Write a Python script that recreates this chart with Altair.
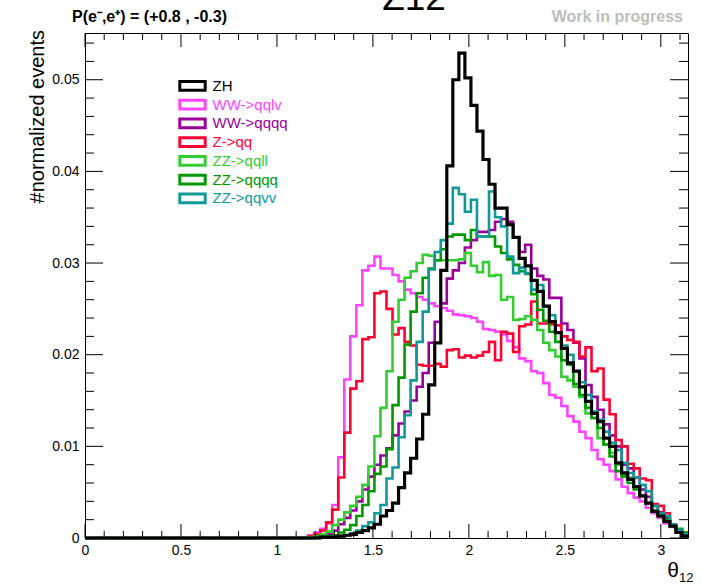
import math
import pandas as pd
import altair as alt

FONT = "Liberation Sans"
W, H = 603, 505
PAD = {"left": 85, "top": 33, "right": 14, "bottom": 46}

N_BINS = 100
X_MAX = math.pi
Y_MAX = 0.0551
BIN_WIDTH = X_MAX / N_BINS

series_names = ["ZH", "WW->qqlv", "WW->qqqq", "Z->qq", "ZZ->qqll", "ZZ->qqqq", "ZZ->qqvv"]
series_colors = ["#000000", "#ff44ff", "#990099", "#ff0033", "#33cc33", "#009900", "#119999"]
draw_order = ["WW->qqlv", "WW->qqqq", "Z->qq", "ZZ->qqll", "ZZ->qqqq", "ZZ->qqvv", "ZH"]

# bin contents, 100 bins over [0, pi]
zh = [
    0, 0, 0, 0, 0, 0, 0, 0, 0, 0, 0, 0, 0, 0, 0, 0, 0, 0, 0, 0,
    0, 0, 0, 0, 0, 0, 0, 0, 0, 0, 0, 0, 0, 0, 0, 0, 0,
    0.0000, 0.0000, 0.0001, 0.0001, 0.0001, 0.0002, 0.0003, 0.0004, 0.0006, 0.0008,
    0.0011, 0.0015, 0.0024, 0.0030, 0.0038, 0.0055, 0.0071, 0.0087, 0.0108, 0.0135,
    0.0167, 0.0213, 0.0292, 0.0406, 0.0500, 0.0529, 0.0502, 0.0472, 0.0444, 0.0413,
    0.0386, 0.0360, 0.0360, 0.0342, 0.0328, 0.0305, 0.0297, 0.0281, 0.0269, 0.0253,
    0.0236, 0.0224, 0.0207, 0.0191, 0.0182, 0.0165, 0.0149, 0.0136, 0.0127, 0.0109,
    0.0100, 0.0082, 0.0071, 0.0064, 0.0056, 0.0046, 0.0038, 0.0029, 0.0024, 0.0018,
    0.0013, 0.0006, 0.0002]
ww_qqlv = [
    0, 0, 0, 0, 0, 0, 0, 0, 0, 0, 0, 0, 0, 0, 0, 0, 0, 0, 0, 0,
    0, 0, 0, 0, 0, 0, 0, 0, 0, 0, 0, 0, 0, 0, 0, 0, 0,
    0.0003, 0.0006, 0.0010, 0.0016, 0.0036, 0.0088, 0.0173, 0.0220, 0.0254, 0.0292,
    0.0297, 0.0307, 0.0294, 0.0294, 0.0287, 0.0280, 0.0271, 0.0267, 0.0263, 0.0260,
    0.0256, 0.0253, 0.0251, 0.0248, 0.0244, 0.0243, 0.0242, 0.0240, 0.0236, 0.0228,
    0.0227, 0.0225, 0.0222, 0.0215, 0.0208, 0.0196, 0.0193, 0.0182, 0.0180, 0.0169,
    0.0156, 0.0153, 0.0144, 0.0133, 0.0127, 0.0116, 0.0109, 0.0096, 0.0086, 0.0080,
    0.0073, 0.0064, 0.0056, 0.0049, 0.0044, 0.0040, 0.0033, 0.0027, 0.0022, 0.0016,
    0.0012, 0.0008, 0.0004]
ww_qqqq = [
    0, 0, 0, 0, 0, 0, 0, 0, 0, 0, 0, 0, 0, 0, 0, 0, 0, 0, 0, 0,
    0, 0, 0, 0, 0, 0, 0, 0, 0, 0, 0, 0, 0, 0, 0, 0, 0,
    0.0000, 0.0001, 0.0002, 0.0004, 0.0008, 0.0015, 0.0022, 0.0030, 0.0040, 0.0053,
    0.0067, 0.0080, 0.0090, 0.0098, 0.0112, 0.0125, 0.0138, 0.0150, 0.0165, 0.0180,
    0.0213, 0.0236, 0.0256, 0.0283, 0.0292, 0.0300, 0.0317, 0.0325, 0.0334, 0.0334,
    0.0336, 0.0345, 0.0348, 0.0345, 0.0328, 0.0312, 0.0320, 0.0294, 0.0286, 0.0282,
    0.0262, 0.0262, 0.0234, 0.0227, 0.0213, 0.0196, 0.0167, 0.0154, 0.0140, 0.0124,
    0.0112, 0.0100, 0.0080, 0.0076, 0.0066, 0.0053, 0.0045, 0.0035, 0.0028, 0.0022,
    0.0014, 0.0008, 0.0003]
z_qq = [
    0, 0, 0, 0, 0, 0, 0, 0, 0, 0, 0, 0, 0, 0, 0, 0, 0, 0, 0, 0,
    0, 0, 0, 0, 0, 0, 0, 0, 0, 0, 0, 0, 0, 0, 0, 0, 0,
    0.0002, 0.0004, 0.0008, 0.0017, 0.0031, 0.0066, 0.0115, 0.0163, 0.0171, 0.0217,
    0.0219, 0.0267, 0.0269, 0.0250, 0.0222, 0.0229, 0.0214, 0.0210, 0.0189, 0.0188,
    0.0188, 0.0190, 0.0187, 0.0205, 0.0206, 0.0197, 0.0199, 0.0197, 0.0199, 0.0203,
    0.0214, 0.0194, 0.0225, 0.0223, 0.0203, 0.0231, 0.0233, 0.0258, 0.0234, 0.0234,
    0.0233, 0.0232, 0.0220, 0.0216, 0.0214, 0.0198, 0.0208, 0.0182, 0.0185, 0.0151,
    0.0135, 0.0107, 0.0100, 0.0081, 0.0076, 0.0065, 0.0063, 0.0037, 0.0035, 0.0027,
    0.0014, 0.0009, 0.0004]
zz_qqll = [
    0, 0, 0, 0, 0, 0, 0, 0, 0, 0, 0, 0, 0, 0, 0, 0, 0, 0, 0, 0,
    0, 0, 0, 0, 0, 0, 0, 0, 0, 0, 0, 0, 0, 0, 0, 0, 0,
    0.0001, 0.0002, 0.0004, 0.0007, 0.0014, 0.0020, 0.0028, 0.0035, 0.0045, 0.0058,
    0.0078, 0.0111, 0.0142, 0.0182, 0.0236, 0.0260, 0.0284, 0.0291, 0.0300, 0.0309,
    0.0308, 0.0303, 0.0303, 0.0303, 0.0303, 0.0304, 0.0311, 0.0297, 0.0290, 0.0301,
    0.0286, 0.0287, 0.0260, 0.0263, 0.0238, 0.0239, 0.0242, 0.0238, 0.0227, 0.0213,
    0.0205, 0.0198, 0.0176, 0.0172, 0.0165, 0.0154, 0.0136, 0.0131, 0.0109, 0.0102,
    0.0093, 0.0080, 0.0069, 0.0066, 0.0056, 0.0046, 0.0038, 0.0029, 0.0026, 0.0018,
    0.0013, 0.0007, 0.0006]
zz_qqqq = [
    0, 0, 0, 0, 0, 0, 0, 0, 0, 0, 0, 0, 0, 0, 0, 0, 0, 0, 0, 0,
    0, 0, 0, 0, 0, 0, 0, 0, 0, 0, 0, 0, 0, 0, 0, 0, 0,
    0.0000, 0.0001, 0.0001, 0.0002, 0.0003, 0.0006, 0.0009, 0.0014, 0.0024, 0.0036,
    0.0051, 0.0070, 0.0078, 0.0097, 0.0145, 0.0175, 0.0211, 0.0247, 0.0267, 0.0284,
    0.0294, 0.0303, 0.0315, 0.0329, 0.0331, 0.0331, 0.0325, 0.0336, 0.0329, 0.0329,
    0.0329, 0.0318, 0.0311, 0.0304, 0.0298, 0.0291, 0.0288, 0.0266, 0.0249, 0.0237,
    0.0225, 0.0214, 0.0194, 0.0189, 0.0168, 0.0156, 0.0142, 0.0131, 0.0120, 0.0102,
    0.0089, 0.0073, 0.0067, 0.0060, 0.0053, 0.0046, 0.0038, 0.0030, 0.0024, 0.0020,
    0.0014, 0.0010, 0.0006]
zz_qqvv = [
    0, 0, 0, 0, 0, 0, 0, 0, 0, 0, 0, 0, 0, 0, 0, 0, 0, 0, 0, 0,
    0, 0, 0, 0, 0, 0, 0, 0, 0, 0, 0, 0, 0, 0, 0, 0, 0,
    0.0000, 0.0000, 0.0001, 0.0001, 0.0001, 0.0002, 0.0003, 0.0005, 0.0008, 0.0013,
    0.0017, 0.0027, 0.0036, 0.0065, 0.0077, 0.0110, 0.0134, 0.0172, 0.0214, 0.0247,
    0.0293, 0.0312, 0.0325, 0.0343, 0.0382, 0.0375, 0.0356, 0.0369, 0.0329, 0.0329,
    0.0378, 0.0350, 0.0340, 0.0307, 0.0289, 0.0295, 0.0289, 0.0271, 0.0276, 0.0253,
    0.0243, 0.0224, 0.0210, 0.0200, 0.0182, 0.0170, 0.0156, 0.0138, 0.0129, 0.0116,
    0.0104, 0.0096, 0.0082, 0.0071, 0.0066, 0.0058, 0.0051, 0.0035, 0.0027, 0.0024,
    0.0015, 0.0009, 0.0004]

series_values = [zh, ww_qqlv, ww_qqqq, z_qq, zz_qqll, zz_qqqq, zz_qqvv]

x_label_values = [0, 0.5, 1.0, 1.5, 2.0, 2.5, 3.0]
x_minor_ticks = [0.1, 0.2, 0.3, 0.4, 0.6, 0.7, 0.8, 0.9, 1.1, 1.2, 1.3, 1.4,
                 1.6, 1.7, 1.8, 1.9, 2.1, 2.2, 2.3, 2.4, 2.6, 2.7, 2.8, 2.9, 3.1]
y_label_values = [0, 0.01, 0.02, 0.03, 0.04, 0.05]
y_minor_ticks = [0.002, 0.004, 0.006, 0.008, 0.012, 0.014, 0.016, 0.018,
                 0.022, 0.024, 0.026, 0.028, 0.032, 0.034, 0.036, 0.038,
                 0.042, 0.044, 0.046, 0.048, 0.052, 0.054]

header_text = "P(e\u207b,e\u207a) = (+0.8 , -0.3)"
wip_text = "Work in progress"
title_text = "Z12"
y_title = "#normalized events"

# ---------------------------------------------------------------- data table
rows = []
for name, vals in zip(series_names, series_values):
    for i, v in enumerate(vals):
        rows.append({"series": name, "theta": i * BIN_WIDTH, "value": v})
    rows.append({"series": name, "theta": N_BINS * BIN_WIDTH, "value": vals[-1]})
hist_df = pd.DataFrame(rows)

x_scale = alt.Scale(domain=[0, X_MAX], nice=False, zero=False)
y_scale = alt.Scale(domain=[0, Y_MAX], nice=False, zero=False)
color_scale = alt.Scale(domain=series_names, range=series_colors)

x_axis = alt.Axis(values=x_label_values, format="~g", ticks=False, domain=False,
                  grid=False, labelFont=FONT, labelFontSize=14, labelColor="black",
                  labelPadding=5, title=None, labelFlush=False)
y_axis = alt.Axis(values=y_label_values, format="~g", ticks=False, domain=False,
                  grid=False, labelFont=FONT, labelFontSize=14, labelColor="black",
                  labelPadding=6, title=None, labelFlush=False)

line_layers = []
for name in draw_order:
    sw = 3.2 if name == "ZH" else 2.6
    line_layers.append(
        alt.Chart(hist_df).transform_filter(alt.datum.series == name)
        .mark_line(interpolate="step-after", strokeWidth=sw, clip=False)
        .encode(
            x=alt.X("theta:Q", scale=x_scale, axis=x_axis),
            y=alt.Y("value:Q", scale=y_scale, axis=y_axis),
            color=alt.Color("series:N", scale=color_scale, legend=None),
        )
    )


def x_ticks(vals, length, top):
    if top:
        yy, yy2 = alt.value(0), alt.value(length)
    else:
        yy, yy2 = alt.value(H), alt.value(H - length)
    return alt.Chart(pd.DataFrame({"t": vals})).mark_rule(color="black", strokeWidth=1).encode(
        x=alt.X("t:Q", scale=x_scale, axis=x_axis), y=yy, y2=yy2)


def y_ticks(vals, length, right):
    if right:
        xx, xx2 = alt.value(W), alt.value(W - length)
    else:
        xx, xx2 = alt.value(0), alt.value(length)
    return alt.Chart(pd.DataFrame({"t": vals})).mark_rule(color="black", strokeWidth=1).encode(
        y=alt.Y("t:Q", scale=y_scale, axis=y_axis), x=xx, x2=xx2)


tick_layers = [
    x_ticks(x_label_values, 14, False), x_ticks(x_minor_ticks, 7, False),
    x_ticks(x_label_values, 14, True), x_ticks(x_minor_ticks, 7, True),
    y_ticks(y_label_values, 18, False), y_ticks(y_minor_ticks, 9, False),
    y_ticks(y_label_values, 18, True), y_ticks(y_minor_ticks, 9, True),
]

main = alt.layer(*(line_layers + tick_layers))

# ---------------------------------------------------------------- legend & texts
leg_df = pd.DataFrame({"series": series_names})
leg_scale = alt.Scale(type="point", domain=series_names, range=[52.8, 165.3], padding=0)

leg_sym = alt.Chart(leg_df).mark_point(
    shape="M-1,-0.342H1V0.342H-1Z", size=645, filled=False, strokeWidth=3, opacity=1
).encode(
    x=alt.value(107.5),
    y=alt.Y("series:N", scale=leg_scale, axis=None),
    color=alt.Color("series:N", scale=color_scale, legend=None),
)
leg_txt = alt.Chart(leg_df).mark_text(
    align="left", baseline="middle", font=FONT, fontSize=15
).encode(
    x=alt.value(127.5),
    y=alt.Y("series:N", scale=leg_scale, axis=None),
    text="series:N",
    color=alt.Color("series:N", scale=color_scale, legend=None),
)


def label(txt, x, y, **kw):
    return alt.Chart(pd.DataFrame({"t": [txt]})).mark_text(font=FONT, **kw).encode(
        text="t:N", x=alt.value(x), y=alt.value(y))


texts = [
    label(header_text, -13, -11, fontSize=16, fontWeight="bold", align="left",
          baseline="alphabetic", color="black"),
    label(wip_text, 598, -11, fontSize=16, fontWeight="bold", align="right",
          baseline="alphabetic", color="#bdbdbd"),
    label(title_text, 329, -23, fontSize=37, align="center", baseline="alphabetic",
          color="black"),
    label(y_title, -41, -3, fontSize=20, angle=270, align="right",
          baseline="alphabetic", color="black"),
    label("\u03b8", 588, 544, fontSize=21, align="center", baseline="alphabetic",
          color="black"),
    label("12", 594, 549, fontSize=13, align="left", baseline="alphabetic",
          color="black"),
]

legend = alt.layer(leg_sym, leg_txt, *texts)

chart = alt.layer(main, legend).resolve_scale(y="independent").properties(
    width=W, height=H, padding=PAD,
    autosize=alt.AutoSizeParams(type="none"),
    background="white",
).configure_view(stroke="black", strokeWidth=1)

chart.save("out.html", embed_options={"renderer": "svg", "actions": False})
